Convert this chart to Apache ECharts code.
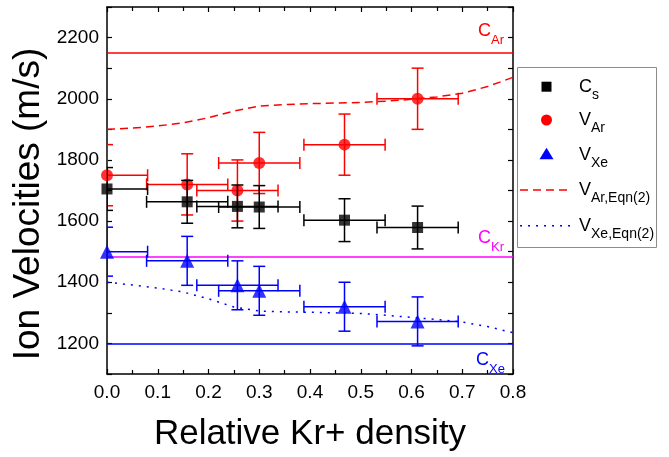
<!DOCTYPE html>
<html><head><meta charset="utf-8">
<script src="https://cdn.jsdelivr.net/npm/echarts@6/dist/echarts.min.js"></script>
<style>html,body{margin:0;padding:0;background:#fff}#c{width:669px;height:457px}</style>
</head><body><div id="c"></div>
<script>
// ---- data ----
const xVals  = [0.000, 0.158, 0.257, 0.300, 0.468, 0.612];
const xErr   = [0.08, 0.08, 0.08, 0.08, 0.08, 0.08];
const csVals = [1705, 1663, 1648, 1646, 1603, 1579];
const csErr  = [70, 70, 70, 70, 70, 70];
const arVals = [1750, 1720, 1700, 1790, 1850, 2000];
const arErr  = [100, 100, 100, 100, 100, 100];
const xeVals = [1500, 1470, 1390, 1372, 1320, 1272];
const xeErr  = [80, 80, 80, 80, 80, 80];
const eqnX   = [0, 0.05, 0.1, 0.15, 0.2, 0.25, 0.3, 0.35, 0.4, 0.45, 0.5, 0.55, 0.6, 0.65, 0.7, 0.75, 0.8];
const arEqn  = [1900, 1904, 1911, 1921, 1938, 1960, 1976, 1981, 1984, 1986, 1988, 1992, 1998, 2006, 2018, 2040, 2070];
const xeEqn  = [1400, 1391, 1381, 1368, 1346, 1319, 1306, 1303, 1302, 1300, 1298, 1292, 1285, 1278, 1270, 1255, 1235];
const refNames  = ['Ar', 'Kr', 'Xe'];
const refLevels = [2150, 1485, 1200];
const refColors = ['#ff0000', '#ff00ff', '#0000ff'];
const legendMain = ['C', 'V', 'V', 'V', 'V'];
const legendSub  = ['s', 'Ar', 'Xe', 'Ar,Eqn(2)', 'Xe,Eqn(2)'];
const xTitle = 'Relative Kr+ density';
const yTitle = 'Ion Velocities (m/s)';

const FONT = 'Liberation Sans, Arial, Helvetica, sans-serif';
const RED = '#ff0000', BLUE = '#0000ff', BLACK = '#000000';

function zip(xs, ys, ex, ey) { return xs.map((x, i) => ey ? [x, ys[i], ex[i], ey[i]] : [x, ys[i]]); }

function errRender(color) {
  return function (params, api) {
    const x = api.value(0), y = api.value(1), ex = api.value(2), ey = api.value(3);
    const c = api.coord([x, y]);
    const l = api.coord([x - ex, y]), r = api.coord([x + ex, y]);
    const t = api.coord([x, y + ey]), b = api.coord([x, y - ey]);
    const cap = 6;
    const style = { stroke: color, lineWidth: 1.5, fill: null };
    const L = (x1, y1, x2, y2) => ({ type: 'line', shape: { x1, y1, x2, y2 }, style });
    return { type: 'group', children: [
      L(l[0], c[1], r[0], c[1]),
      L(l[0], c[1] - cap, l[0], c[1] + cap),
      L(r[0], c[1] - cap, r[0], c[1] + cap),
      L(c[0], t[1], c[0], b[1]),
      L(c[0] - cap, t[1], c[0] + cap, t[1]),
      L(c[0] - cap, b[1], c[0] + cap, b[1])
    ]};
  };
}

// main letter aligned to the top of the rich line, subscript to its bottom
function subRich(color, mainSize, subSize, boxH) {
  return {
    c: { fontFamily: FONT, fontSize: mainSize, lineHeight: 19, verticalAlign: 'top', color },
    s: { fontFamily: FONT, fontSize: subSize, lineHeight: boxH, verticalAlign: 'bottom', color }
  };
}

const chart = echarts.init(document.getElementById('c'), null, { renderer: 'canvas' });

const axisCommon = {
  axisLine: { show: true, onZero: false, lineStyle: { color: BLACK, width: 1.5 } },
  axisTick: { show: true, inside: true, length: 5, lineStyle: { color: BLACK, width: 1.2 } },
  splitLine: { show: false }
};

const labelDist = [[9, 6], [9, 2], [8, 8]];
const markLineData = refLevels.map((v, i) => ({
  yAxis: v,
  lineStyle: { color: refColors[i], width: 1.5, type: 'solid' },
  label: {
    show: true,
    position: i === 2 ? 'insideEndBottom' : 'insideEndTop',
    distance: labelDist[i],
    formatter: '{c|C}{s|' + refNames[i] + '}',
    rich: subRich(refColors[i], 18, 13, 25)
  }
}));

const legendRows = [86.7, 120, 154.3, 190, 225.7];
const legendGraphics = [
  { type: 'rect', shape: { x: 517.5, y: 67.5, width: 139, height: 180 }, style: { fill: '#fff', stroke: '#8c8c8c', lineWidth: 1 }, z: 100 },
  { type: 'rect', shape: { x: 541.5, y: legendRows[0] - 5, width: 10, height: 10 }, style: { fill: BLACK }, z: 101 },
  { type: 'circle', shape: { cx: 546.5, cy: legendRows[1], r: 5.5 }, style: { fill: RED }, z: 101 },
  { type: 'polygon', shape: { points: [[546.5, legendRows[2] - 6.5], [553.5, legendRows[2] + 5], [539.5, legendRows[2] + 5]] }, style: { fill: BLUE }, z: 101 },
  { type: 'line', shape: { x1: 520, y1: legendRows[3], x2: 572, y2: legendRows[3] }, style: { stroke: RED, lineWidth: 1.5, lineDash: [8, 5] }, z: 101 },
  { type: 'line', shape: { x1: 520, y1: legendRows[4], x2: 572, y2: legendRows[4] }, style: { stroke: BLUE, lineWidth: 1.5, lineDash: [2, 6] }, z: 101 }
];
legendMain.forEach((m, i) => {
  legendGraphics.push({
    type: 'text', z: 101,
    style: {
      x: 579, y: legendRows[i] - 8.5, verticalAlign: 'top', align: 'left',
      text: '{c|' + m + '}{s|' + legendSub[i] + '}',
      rich: subRich(BLACK, 18, 14, 24)
    }
  });
});
legendGraphics.push({
  type: 'text', rotation: Math.PI / 2, x: 29, y: 204,
  style: { text: yTitle, font: '37px ' + FONT, fill: BLACK, align: 'center', verticalAlign: 'middle' }
});

chart.setOption({
  animation: false,
  backgroundColor: '#fff',
  grid: { left: 107, right: 156, top: 7, bottom: 80, containLabel: false },
  xAxis: [
    Object.assign({}, axisCommon, {
      type: 'value', position: 'bottom', min: 0, max: 0.8, interval: 0.1,
      minorTick: { show: true, splitNumber: 2, length: 4, lineStyle: { color: BLACK, width: 1.2 } },
      axisLabel: { show: true, margin: 9, fontFamily: FONT, fontSize: 19, color: BLACK, formatter: v => v.toFixed(1) },
      name: xTitle, nameLocation: 'middle', nameGap: 43,
      nameTextStyle: { fontFamily: FONT, fontSize: 35, color: BLACK }
    }),
    Object.assign({}, axisCommon, {
      type: 'value', position: 'top', min: 0, max: 0.8, interval: 0.1,
      minorTick: { show: true, splitNumber: 2, length: 4, lineStyle: { color: BLACK, width: 1.2 } },
      axisLabel: { show: false }
    })
  ],
  yAxis: [
    Object.assign({}, axisCommon, {
      type: 'value', position: 'left', min: 1100, max: 2300, interval: 100,
      axisLabel: { show: true, margin: 8, fontFamily: FONT, fontSize: 19, color: BLACK,
        formatter: v => (v % 200 === 0 ? String(v) : '') }
    }),
    Object.assign({}, axisCommon, {
      type: 'value', position: 'right', min: 1100, max: 2300, interval: 100,
      axisLabel: { show: false }
    })
  ],
  graphic: legendGraphics,
  series: [
    { type: 'line', name: 'refs', data: [], symbol: 'none',
      markLine: { silent: true, symbol: ['none', 'none'], data: markLineData }, z: 1 },
    { type: 'line', name: 'VAr,Eqn(2)', data: zip(eqnX, arEqn), symbol: 'none', showSymbol: false,
      lineStyle: { color: RED, width: 1.5, type: [8, 5] }, z: 2 },
    { type: 'line', name: 'VXe,Eqn(2)', data: zip(eqnX, xeEqn), symbol: 'none', showSymbol: false,
      lineStyle: { color: BLUE, width: 1.5, type: [2, 6] }, z: 2 },
    { type: 'custom', name: 'arErr', renderItem: errRender(RED), data: zip(xVals, arVals, xErr, arErr), clip: true, z: 3 },
    { type: 'scatter', name: 'VAr', data: zip(xVals, arVals), symbol: 'circle', symbolSize: 12, itemStyle: { color: RED }, z: 4 },
    { type: 'custom', name: 'csErr', renderItem: errRender(BLACK), data: zip(xVals, csVals, xErr, csErr), clip: true, z: 5 },
    { type: 'scatter', name: 'Cs', data: zip(xVals, csVals), symbol: 'rect', symbolSize: 11, itemStyle: { color: BLACK }, z: 6 },
    { type: 'custom', name: 'xeErr', renderItem: errRender(BLUE), data: zip(xVals, xeVals, xErr, xeErr), clip: true, z: 7 },
    { type: 'scatter', name: 'VXe', data: zip(xVals, xeVals), symbol: 'triangle', symbolSize: 14, itemStyle: { color: BLUE }, z: 8 }
  ]
});
</script>
</body></html>
